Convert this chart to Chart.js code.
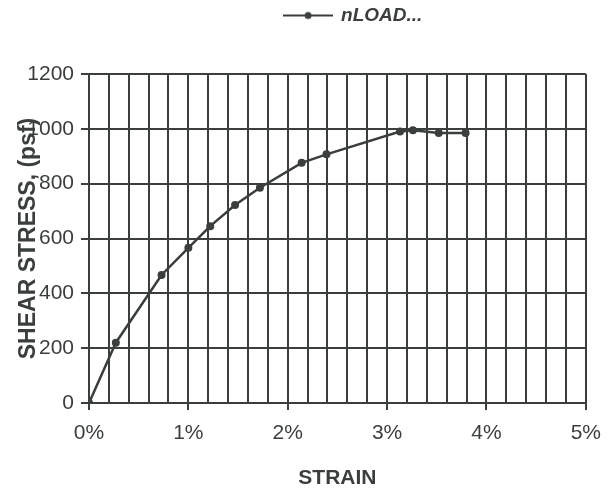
<!DOCTYPE html>
<html>
<head>
<meta charset="utf-8">
<script src="https://cdn.jsdelivr.net/npm/chart.js@4/dist/chart.umd.min.js"></script>
<style>
  html, body { margin: 0; padding: 0; background: #ffffff; }
  #wrap { width: 612px; height: 491px; }
</style>
</head>
<body>
<div id="wrap"><canvas id="c" width="612" height="491"></canvas></div>
<script>
// Direct shear test: shear stress against strain
const strainPct = [0, 0.27, 0.73, 1.0, 1.22, 1.47, 1.72, 2.14, 2.39, 3.13, 3.26, 3.52, 3.79];
const shearPsf  = [0, 220, 467, 566, 645, 722, 785, 876, 907, 990, 995, 985, 985];
const seriesName = 'nLOAD...';
const xTitle = 'STRAIN';
const yTitle = 'SHEAR STRESS, (psf)';
const xMax = 5;      // strain axis, %
const yMax = 1200;   // stress axis, psf

const INK = '#3a3f3d';
const FONT = "'Liberation Sans', Arial, Helvetica, sans-serif";

// legend swatch: short line with a dot in the middle
function legendSwatch() {
  const cv = document.createElement('canvas');
  cv.width = 50; cv.height = 10;
  const g = cv.getContext('2d');
  g.strokeStyle = INK; g.lineWidth = 2;
  g.beginPath(); g.moveTo(0, 5); g.lineTo(50, 5); g.stroke();
  g.fillStyle = INK;
  g.beginPath(); g.arc(25, 5, 3.5, 0, Math.PI * 2); g.fill();
  return cv;
}
const swatch = legendSwatch();

const isWhole = v => Math.abs(v - Math.round(v)) < 1e-6;

// legend row: extra space below it, and nudged right of centre
const legendPlacement = {
  id: 'legendPlacement',
  beforeLayout(chart) {
    const lg = chart.legend;
    if (lg && !lg._spaced) {
      const fit = lg.fit;
      lg.fit = function () { fit.call(this); this.height += 39; };
      lg._spaced = true;
    }
  },
  afterUpdate(chart) {
    const lg = chart.legend;
    if (!lg) return;
    lg.left += 60; lg.right += 60;
    lg.adjustHitBoxes();
  }
};

new Chart(document.getElementById('c'), {
  type: 'line',
  data: {
    datasets: [{
      label: seriesName,
      data: strainPct.map((x, i) => ({ x, y: shearPsf[i] })),
      borderColor: INK,
      backgroundColor: INK,
      borderWidth: 2.5,
      pointRadius: 4,
      pointBackgroundColor: INK,
      pointBorderWidth: 0,
      tension: 0,
      fill: false
    }]
  },
  options: {
    responsive: false,
    animation: false,
    devicePixelRatio: 1,
    layout: { padding: { left: 0, right: 25, top: 0, bottom: 0 } },
    plugins: {
      legend: {
        position: 'top',
        labels: {
          usePointStyle: true,
          pointStyleWidth: 47,
          padding: 6,
          color: INK,
          font: { family: FONT, size: 19, style: 'italic', weight: 'bold' },
          generateLabels(chart) {
            return chart.data.datasets.map((ds, i) => ({
              text: ds.label, pointStyle: swatch, fillStyle: INK,
              strokeStyle: INK, lineWidth: 0, datasetIndex: i, fontColor: INK
            }));
          }
        }
      },
      tooltip: { enabled: false }
    },
    scales: {
      x: {
        type: 'linear',
        min: 0, max: xMax,
        afterFit(s) { s.height = 88; },
        ticks: {
          stepSize: 0.2,
          autoSkip: false,
          maxRotation: 0,
          padding: 11,
          color: INK,
          font: { family: FONT, size: 21 },
          callback: v => isWhole(v) ? Math.round(v) + '%' : ''
        },
        grid: {
          color: INK,
          lineWidth: 2,
          tickLength: 7,
          tickColor: c => (c.tick && isWhole(c.tick.value)) ? INK : 'rgba(0,0,0,0)'
        },
        border: { color: INK, width: 2 },
        title: {
          display: true, text: xTitle, color: INK,
          font: { family: FONT, size: 21, weight: 'bold' },
          padding: { top: 0, bottom: 0 }
        }
      },
      y: {
        min: 0, max: yMax,
        afterFit(s) { s.width = 89; },
        ticks: {
          stepSize: 200,
          padding: 7,
          color: INK,
          font: { family: FONT, size: 21 },
          callback: v => String(v)
        },
        grid: { color: INK, lineWidth: 2, tickLength: 8, tickColor: INK },
        border: { color: INK, width: 2 },
        title: {
          display: true, text: yTitle, color: INK,
          font: { family: FONT, size: 23, weight: 'bold' },
          padding: { top: 15, bottom: 0 }
        }
      }
    }
  },
  plugins: [legendPlacement]
});
</script>
</body>
</html>
